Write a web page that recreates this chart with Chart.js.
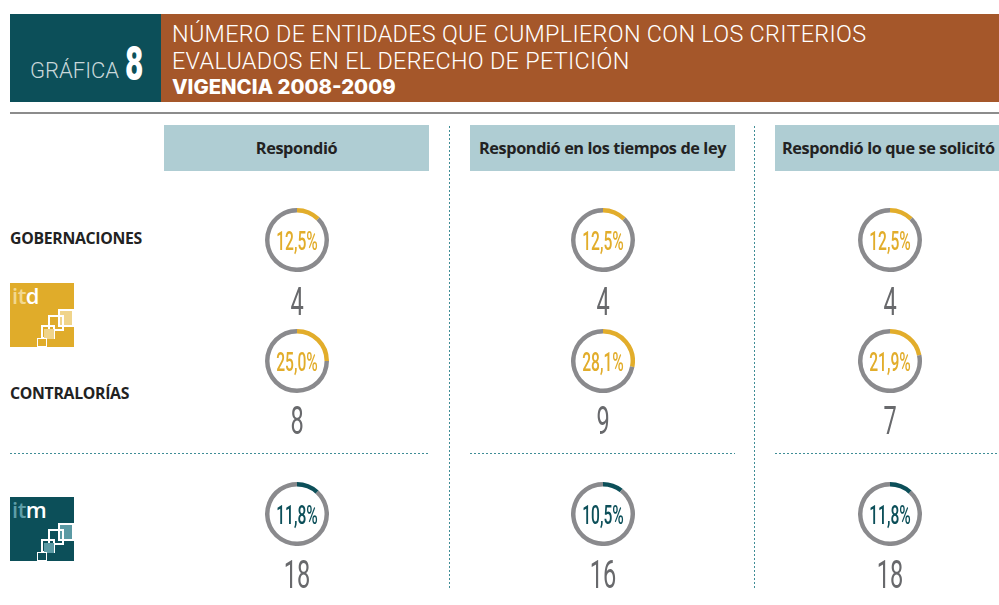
<!DOCTYPE html>
<html>
<head>
<meta charset="utf-8">
<script src="https://cdn.jsdelivr.net/npm/chart.js@4"></script>
<style>
  html, body { margin: 0; padding: 0; background: #fff; }
  body { width: 999px; height: 605px; position: relative; overflow: hidden; font-family: "Open Sans", sans-serif; }
  .abs { position: absolute; }
  #hdrNum { left: 10px; top: 14px; width: 151px; height: 88px; background: #0c4f59; }
  #hdrTitle { left: 161px; top: 14px; width: 838px; height: 88px; background: #a5572a; }
  .title { left: 172px; color: #fff; font-family: Roboto, sans-serif; font-weight: 300; font-size: 23.4px; letter-spacing: 0.3px; white-space: nowrap; line-height: 22px; }
  .subtitle { left: 172px; top: 77px; color: #fff; font-family: Inter, sans-serif; font-weight: 800; font-size: 20.3px; white-space: nowrap; line-height: 20px; }
  #grafica { left: 30px; top: 60px; color: #c9d8da; font-family: Roboto, sans-serif; font-weight: 300; font-size: 22px; line-height: 1; }
  #ocho { left: 125px; top: 40px; color: #fff; font-family: Roboto, sans-serif; font-weight: 900; font-size: 48px; line-height: 1; transform: scaleX(0.66); transform-origin: left top; }
  #rule { left: 10px; top: 112px; width: 989px; height: 2px; background: #8c8c8c; }
  .colhead { top: 125px; height: 46px; background: #afcdd3; color: #222; font-weight: 700; font-size: 16.3px; display: flex; align-items: center; justify-content: center; white-space: nowrap; letter-spacing: -0.4px; }
  .vdot { top: 126px; width: 1px; height: 464px; background-image: repeating-linear-gradient(to bottom, #3f8d96 0 2px, transparent 2px 4px); }
  .hdot { top: 453px; height: 1px; background-image: repeating-linear-gradient(to right, #3f8d96 0 2px, transparent 2px 4px); }
  .rowlabel { left: 10px; color: #222; font-weight: 700; font-size: 15.8px; letter-spacing: -0.3px; line-height: 1; }
  .ring { width: 64px; height: 64px; }
  .pct { font-family: Roboto, sans-serif; font-size: 26px; font-weight: 500; white-space: nowrap; transform: translate(-50%, -50%) scaleX(0.6); line-height: 1; }
  .count { font-family: Roboto, sans-serif; font-size: 38px; font-weight: 400; color: #68696c; white-space: nowrap; transform: translate(-50%, -50%) scaleX(0.62); line-height: 1; }
  .logo { left: 10px; width: 64px; height: 64px; }
  .logo .txt { position: absolute; left: 2px; top: 1px; font-family: "Open Sans", sans-serif; font-size: 22px; font-weight: 600; letter-spacing: -0.5px; line-height: 22px; }
  .sq { position: absolute; box-sizing: border-box; }
</style>
</head>
<body>
<div class="abs" id="hdrNum"></div>
<div class="abs" id="hdrTitle"></div>
<div class="abs" id="grafica">GRÁFICA</div>
<div class="abs" id="ocho">8</div>
<div class="abs title" style="top:23px">NÚMERO DE ENTIDADES QUE CUMPLIERON CON LOS CRITERIOS</div>
<div class="abs title" style="top:50px">EVALUADOS EN EL DERECHO DE PETICIÓN</div>
<div class="abs subtitle">VIGENCIA 2008-2009</div>
<div class="abs" id="rule"></div>

<div id="stage"></div>

<script>
// column headings
const criteria = ['Respondió', 'Respondió en los tiempos de ley', 'Respondió lo que se solicitó'];

// percentage of entities that met each criterion
const gobernacionesPct = [12.5, 12.5, 12.5];
const contraloriasPct = [25.0, 28.1, 21.9];
const municipiosPct = [11.8, 10.5, 11.8];

// number of entities
const gobernacionesCount = [4, 4, 4];
const contraloriasCount = [8, 9, 7];
const municipiosCount = [18, 16, 18];

const stage = document.getElementById('stage');
const gold = '#e2ad2b';
const teal = '#0c4f59';
const ringGray = '#8a8a8d';

function el(cls, style, html) {
  const d = document.createElement('div');
  d.className = 'abs ' + cls;
  Object.assign(d.style, style);
  if (html !== undefined) d.textContent = html;
  stage.appendChild(d);
  return d;
}

// column layout
const colBoxes = [[164, 265], [470, 265], [775, 240]];
const colCenters = [296.5, 602.5, 889.5];
criteria.forEach((c, i) => {
  el('colhead', { left: colBoxes[i][0] + 'px', width: colBoxes[i][1] + 'px', justifyContent: i === 2 ? 'flex-start' : 'center', paddingLeft: i === 2 ? '7px' : '0' }, c);
});
el('vdot', { left: '449px' });
el('vdot', { left: '754px' });
el('hdot', { left: '10px', width: '420px' });
el('hdot', { left: '470px', width: '265px' });
el('hdot', { left: '775px', width: '224px' });

el('rowlabel', { top: '231px' }, 'GOBERNACIONES');
el('rowlabel', { top: '386px' }, 'CONTRALORÍAS');

function logo(top, bg, light, letters, sqFill) {
  const d = el('logo', { top: top + 'px', background: bg });
  const t = document.createElement('div');
  t.className = 'txt';
  t.innerHTML = '<span style="color:' + light + '">it</span><span style="color:#fff">' + letters + '</span>';
  d.appendChild(t);
  const squares = [
    [48, 26, 16, 18, sqFill, 2],
    [38, 32, 16, 16, 'transparent', 2],
    [31, 42, 14, 14, 'transparent', 2],
    [34, 46, 10, 10, sqFill, 0],
    [27, 55, 10, 9, 'transparent', 1.5]
  ];
  squares.forEach(s => {
    const q = document.createElement('div');
    q.className = 'sq';
    Object.assign(q.style, { left: s[0] + 'px', top: s[1] + 'px', width: s[2] + 'px', height: s[3] + 'px', background: s[4], border: s[5] + 'px solid #fff' });
    if (s[5] === 0) q.style.border = 'none';
    d.appendChild(q);
  });
}
logo(283, '#e0ac2a', '#f3d88f', 'd', '#f0d48a');
logo(497, '#0c4f59', '#5e9ea8', 'm', '#5b9aa4');

const rows = [
  { pct: gobernacionesPct, count: gobernacionesCount, y: 240, ny: 302, color: gold },
  { pct: contraloriasPct, count: contraloriasCount, y: 361, ny: 421, color: gold },
  { pct: municipiosPct, count: municipiosCount, y: 514, ny: 575, color: teal }
];

rows.forEach(r => {
  r.pct.forEach((p, i) => {
    const cx = colCenters[i];
    const c = document.createElement('canvas');
    c.className = 'abs ring';
    c.width = 64; c.height = 64;
    c.style.left = (cx - 32) + 'px';
    c.style.top = (r.y - 32) + 'px';
    stage.appendChild(c);
    new Chart(c, {
      type: 'doughnut',
      data: {
        labels: ['Cumplió', 'No cumplió'],
        datasets: [{
          data: [p, 100 - p],
          backgroundColor: [r.color, ringGray],
          borderWidth: 0
        }]
      },
      options: {
        responsive: false,
        animation: false,
        cutout: '86%',
        plugins: { legend: { display: false }, tooltip: { enabled: false } }
      }
    });
    el('pct', { left: cx + 'px', top: (r.y + 1) + 'px', color: r.color }, p.toFixed(1).replace('.', ',') + '%');
    el('count', { left: cx + 'px', top: r.ny + 'px' }, String(r.count[i]));
  });
});
</script>
</body>
</html>
